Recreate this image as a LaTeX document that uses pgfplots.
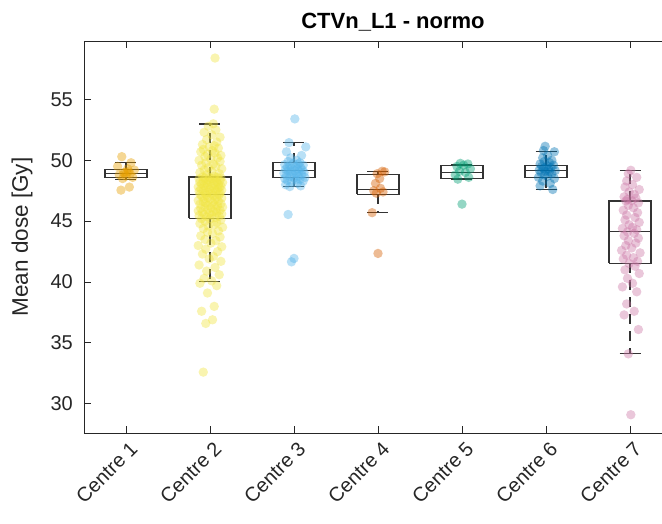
\documentclass[border=0pt]{standalone}
\usepackage{pgfplots}
\pgfplotsset{compat=1.18}
\usepackage{fontspec}
\setmainfont{Liberation Sans}
\definecolor{c1}{HTML}{E69F00}
\definecolor{c2}{HTML}{F0E442}
\definecolor{c3}{HTML}{56B4E9}
\definecolor{c4}{HTML}{D55E00}
\definecolor{c5}{HTML}{009E73}
\definecolor{c6}{HTML}{0072B2}
\definecolor{c7}{HTML}{CC79A7}
\definecolor{axc}{HTML}{262626}
\definecolor{boxc}{HTML}{333333}
\pgfplotsset{
  pts/.style={only marks, mark=*, color=#1, mark size=4.7pt, fill opacity=0.42, draw opacity=0,
    mark options={fill=#1, draw=#1, line width=0pt, fill opacity=0.42, draw opacity=0}},
  boxsolid/.style={boxc, line width=1.1pt, solid, no marks, unbounded coords=jump, line join=miter},
  boxdash/.style={boxc, line width=1.1pt, dash pattern=on 10pt off 7pt, no marks, unbounded coords=jump},
}
\begin{document}
\begin{tikzpicture}
\begin{axis}[
  at={(0pt,0pt)}, anchor=south west,
  scale only axis, width=588pt, height=392pt,
  xmin=0.5, xmax=7.5, ymin=27.6, ymax=59.8,
  axis y line*=left,
  xtick={1,2,3,4,5,6,7},
  xticklabels={Centre 1,Centre 2,Centre 3,Centre 4,Centre 5,Centre 6,Centre 7},
  ytick={30,35,40,45,50,55},
  tick align=inside, major tick length=7pt,
  axis line style={axc, line width=0.9pt, -},
  every tick/.style={axc, line width=0.9pt},
  /pgf/number format/assume math mode=true,
  tick label style={font=\fontsize{20}{24}\selectfont, text=axc},
  xticklabel style={rotate=45, anchor=north east, inner sep=3pt, yshift=-4pt},
  yticklabel style={inner sep=4pt, xshift=-7pt},
  ylabel={Mean dose [Gy]},
  every axis y label/.style={at={(axis description cs:0,0.5)}, xshift=-62pt, rotate=90, anchor=center, font=\fontsize{22.5}{26}\selectfont, text=axc},
  title={CTVn\_L1 - normo},
  every axis title/.style={at={(axis description cs:0.5,1)}, anchor=south, xshift=15pt, yshift=6pt, font=\fontsize{22}{26}\selectfont\bfseries, text=black},
]
% ---- jittered points ----
\addplot[pts=c1] coordinates {(0.95,50.3) (1.06,49.8) (0.90,49.5) (1.02,49.3) (1.10,49.2) (0.97,49.0) (1.05,48.9) (0.92,48.8) (1.00,48.7) (1.08,48.6) (0.98,48.95) (1.03,49.1) (0.94,47.55) (1.04,47.8) (1.01,49.0) (0.96,48.5)};
\addplot[pts=c2] coordinates {
(1.92,32.6) (1.95,36.6) (2.03,36.9) (1.90,37.6) (2.05,38.0) (1.97,39.1) (2.08,39.7) (1.88,39.9)
(2.02,40.1) (1.93,40.3) (2.11,40.6) (1.96,40.9) (2.06,41.2) (1.87,41.4) (2.13,41.7) (1.99,41.9) (2.04,42.1) (1.91,42.3) (2.09,42.5) (1.95,42.7) (2.14,42.9) (1.86,43.0) (2.01,43.2) (2.07,43.4) (1.94,43.5) (2.12,43.7) (1.89,43.8) (2.03,44.0) (1.97,44.1) (2.10,44.2) (1.92,44.4) (2.15,44.5) (1.98,44.6) (2.05,44.7) (1.88,44.8) (2.08,44.9) (1.94,45.0) (2.13,45.1) (2.00,45.2) (1.90,45.2)
(2.06,45.3) (1.96,45.35) (2.11,45.4) (1.87,45.45) (2.02,45.5) (1.93,45.55) (2.14,45.6) (1.99,45.65) (2.08,45.7) (1.91,45.75) (2.04,45.8) (1.86,45.85) (2.12,45.9) (1.97,45.95) (2.07,46.0) (1.89,46.05) (2.01,46.1) (2.15,46.15) (1.94,46.2) (2.09,46.25) (1.98,46.3) (2.05,46.35) (1.88,46.4) (2.13,46.45) (1.95,46.5) (2.03,46.55) (1.92,46.6) (2.10,46.65) (1.86,46.7) (2.06,46.75) (2.00,46.8) (1.93,46.85) (2.14,46.9) (1.97,46.95) (2.08,47.0) (1.90,47.05) (2.04,47.1) (1.96,47.15) (2.11,47.18) (1.88,47.2)
(2.02,47.25) (1.94,47.3) (2.12,47.33) (1.98,47.37) (2.07,47.4) (1.87,47.45) (2.03,47.48) (1.92,47.52) (2.14,47.55) (1.99,47.6) (2.09,47.63) (1.89,47.67) (2.05,47.7) (1.95,47.74) (2.11,47.78) (1.86,47.81) (2.01,47.85) (2.13,47.88) (1.93,47.92) (2.06,47.95) (1.97,48.0) (2.10,48.03) (1.90,48.07) (2.04,48.1) (1.96,48.14) (2.15,48.18) (1.88,48.21) (2.08,48.25) (2.00,48.28) (1.92,48.32) (2.12,48.36) (1.98,48.4) (2.06,48.43) (1.87,48.47) (2.03,48.5) (1.94,48.53) (2.13,48.56) (1.99,48.59) (2.09,48.61) (1.91,48.63)
(2.05,48.7) (1.96,48.8) (2.11,48.9) (1.88,49.0) (2.02,49.1) (1.93,49.2) (2.14,49.3) (1.98,49.4) (2.07,49.5) (1.90,49.6) (2.04,49.7) (1.95,49.8) (2.12,49.9) (1.87,50.0) (2.01,50.1) (2.09,50.2) (1.94,50.3) (2.13,50.4) (1.97,50.5) (2.06,50.6) (1.89,50.7) (2.03,50.8) (1.92,50.9) (2.10,51.0) (1.99,51.1) (2.05,51.2) (1.91,51.3) (2.08,51.5) (1.96,51.7) (2.12,51.9) (2.02,52.1) (1.93,52.3) (2.07,52.5) (1.98,52.8) (2.04,53.0)
(2.05,54.2) (2.06,58.4)};
\addplot[pts=c3] coordinates {(2.97,41.66) (3.00,41.94) (2.93,45.55) (2.95,47.84) (3.08,47.9) (2.90,48.0) (3.04,48.1) (2.97,48.2) (3.11,48.3) (2.92,48.35) (3.02,48.4) (3.07,48.45) (2.89,48.5) (3.00,48.55) (3.13,48.6) (2.95,48.65) (3.05,48.7) (2.91,48.75) (3.09,48.8) (2.98,48.85) (3.03,48.9) (2.88,48.95) (3.12,49.0) (2.96,49.05) (3.06,49.1) (2.93,49.13) (3.01,49.15) (3.10,49.2) (2.90,49.25) (3.04,49.3) (2.97,49.35) (3.08,49.4) (2.92,49.45) (3.02,49.5) (2.95,49.55) (3.11,49.6) (2.89,49.65) (3.05,49.7) (2.99,49.75) (3.07,49.8) (2.93,49.9) (3.03,50.0) (2.96,50.2) (3.09,50.4) (2.91,50.7) (3.14,51.1) (2.94,51.45) (3.01,53.4)};
\addplot[pts=c4] coordinates {(4.00,42.35) (3.93,45.7) (3.98,47.3) (4.06,47.4) (3.95,47.5) (4.03,47.7) (3.97,48.1) (4.02,48.5) (3.99,48.9) (4.08,49.05) (4.05,49.1)};
\addplot[pts=c5] coordinates {(5.00,46.4) (4.95,48.45) (5.08,48.6) (4.92,48.8) (5.04,49.0) (4.97,49.1) (5.10,49.3) (4.94,49.5) (5.02,49.6) (5.07,49.7) (4.98,49.75)};
\addplot[pts=c6] coordinates {(6.08,47.6) (5.93,47.9) (6.05,48.1) (5.96,48.3) (6.10,48.5) (5.91,48.6) (6.02,48.7) (5.98,48.8) (6.07,48.9) (5.94,49.0) (6.04,49.05) (5.99,49.1) (6.11,49.15) (5.92,49.2) (6.03,49.3) (5.97,49.35) (6.06,49.4) (5.95,49.5) (6.01,49.55) (6.09,49.6) (5.93,49.7) (6.04,49.8) (5.98,49.9) (6.07,50.0) (5.96,50.2) (6.02,50.4) (6.10,50.7) (5.97,50.8) (5.99,51.15)};
\addplot[pts=c7] coordinates {(7.01,29.1) (6.98,34.1) (7.10,36.1) (6.93,37.3) (7.05,37.6) (6.96,38.2) (7.08,39.2) (6.91,39.6) (7.03,39.9) (6.97,40.3) (7.11,40.7) (6.94,41.0) (7.06,41.3) (6.99,41.53) (7.09,41.7) (6.92,41.9) (7.04,42.0) (6.96,42.2) (7.12,42.4) (6.90,42.6) (7.02,42.8) (6.95,43.0) (7.07,43.2) (6.98,43.4) (7.10,43.6) (6.93,43.8) (7.05,44.0) (6.97,44.12) (7.08,44.3) (6.91,44.4) (7.03,44.5) (6.99,44.7) (7.11,44.9) (6.94,45.1) (7.06,45.3) (6.96,45.5) (7.09,45.7) (6.92,45.9) (7.04,46.1) (6.98,46.3) (7.10,46.5) (6.95,46.66) (7.02,46.7) (6.97,46.8) (7.07,46.9) (6.93,47.0) (7.05,47.2) (6.99,47.4) (7.11,47.6) (6.94,47.8) (7.03,48.0) (6.96,48.3) (7.08,48.6) (6.98,48.9) (7.01,49.18)};
% ---- box plots ----
% Centre: Q1, median, Q3, lower whisker, upper whisker
% 1: 48.58 48.91 49.24 48.45 49.84
% 2: 45.25 47.19 48.63 40.08 52.98
% 3: 48.58 49.13 49.80 47.84 51.45
% 4: 47.22 47.62 48.80 45.68 49.08
% 5: 48.50 49.02 49.54 48.42 49.65
% 6: 48.58 49.13 49.59 47.60 50.70
% 7: 41.53 44.12 46.66 34.10 49.18
\addplot[boxdash] coordinates {
(1,49.24) (1,49.84) (nan,nan) (1,48.58) (1,48.45) (nan,nan)
(2,48.63) (2,52.98) (nan,nan) (2,45.25) (2,40.08) (nan,nan)
(3,49.80) (3,51.45) (nan,nan) (3,48.58) (3,47.84) (nan,nan)
(4,48.80) (4,49.08) (nan,nan) (4,47.22) (4,45.68) (nan,nan)
(5,49.54) (5,49.65) (nan,nan) (5,48.50) (5,48.42) (nan,nan)
(6,49.59) (6,50.70) (nan,nan) (6,48.58) (6,47.60) (nan,nan)
(7,46.66) (7,49.18) (nan,nan) (7,41.53) (7,34.10)};
\addplot[boxsolid] coordinates {
(0.75,48.58) (1.25,48.58) (1.25,49.24) (0.75,49.24) (0.75,48.58) (nan,nan) (0.75,48.91) (1.25,48.91) (nan,nan) (0.875,48.45) (1.125,48.45) (nan,nan) (0.875,49.84) (1.125,49.84) (nan,nan)
(1.75,45.25) (2.25,45.25) (2.25,48.63) (1.75,48.63) (1.75,45.25) (nan,nan) (1.75,47.19) (2.25,47.19) (nan,nan) (1.875,40.08) (2.125,40.08) (nan,nan) (1.875,52.98) (2.125,52.98) (nan,nan)
(2.75,48.58) (3.25,48.58) (3.25,49.80) (2.75,49.80) (2.75,48.58) (nan,nan) (2.75,49.13) (3.25,49.13) (nan,nan) (2.875,47.84) (3.125,47.84) (nan,nan) (2.875,51.45) (3.125,51.45) (nan,nan)
(3.75,47.22) (4.25,47.22) (4.25,48.80) (3.75,48.80) (3.75,47.22) (nan,nan) (3.75,47.62) (4.25,47.62) (nan,nan) (3.875,45.68) (4.125,45.68) (nan,nan) (3.875,49.08) (4.125,49.08) (nan,nan)
(4.75,48.50) (5.25,48.50) (5.25,49.54) (4.75,49.54) (4.75,48.50) (nan,nan) (4.75,49.02) (5.25,49.02) (nan,nan) (4.875,48.42) (5.125,48.42) (nan,nan) (4.875,49.65) (5.125,49.65) (nan,nan)
(5.75,48.58) (6.25,48.58) (6.25,49.59) (5.75,49.59) (5.75,48.58) (nan,nan) (5.75,49.13) (6.25,49.13) (nan,nan) (5.875,47.60) (6.125,47.60) (nan,nan) (5.875,50.70) (6.125,50.70) (nan,nan)
(6.75,41.53) (7.25,41.53) (7.25,46.66) (6.75,46.66) (6.75,41.53) (nan,nan) (6.75,44.12) (7.25,44.12) (nan,nan) (6.875,34.10) (7.125,34.10) (nan,nan) (6.875,49.18) (7.125,49.18)};
\end{axis}
\pgfresetboundingbox
\useasboundingbox (-84pt,-90pt) rectangle (578pt,433pt);
\end{tikzpicture}
\end{document}
